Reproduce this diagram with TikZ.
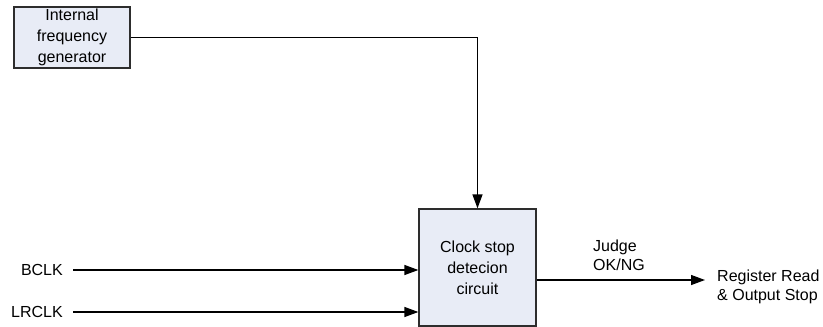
\documentclass[tikz,border=0pt]{standalone}
\usepackage{fontspec}
\setmainfont{Liberation Sans}
\usepackage{xcolor}
\usetikzlibrary{positioning,arrows.meta,calc}
\definecolor{boxfill}{RGB}{232,236,246}
\definecolor{boxline}{RGB}{45,45,45}
\tikzset{
  block/.style={draw=boxline, line width=1.3pt, fill=boxfill, align=center,
                inner sep=0pt, font=\fontsize{16}{21}\selectfont},
  sig/.style={inner sep=0pt, font=\fontsize{16}{19}\selectfont},
  arrow/.style={-{Triangle[length=14pt,width=10pt]}, line width=1.3pt},
}

\begin{document}
\begin{tikzpicture}[x=1pt,y=-1pt]
  \useasboundingbox (0,0) rectangle (823,327);
  \node[block, minimum width=116pt, minimum height=61pt] (gen) at (72,37.5) {Internal\\frequency\\generator};
  \node[block, minimum width=117pt, minimum height=117pt] (clk) at (477.5,267.5) {Clock stop\\detecion\\circuit};
  \node[sig, anchor=east] (bclk)  at (63,270) {BCLK};
  \node[sig, anchor=east] (lrclk) at (63,312) {LRCLK};
  \coordinate (judge) at (705,280);
  \node[sig, align=left, anchor=north west] (ok) at (593,240) {Judge\\OK/NG};
  \node[sig, align=left, anchor=west] (reg) at (717,287) {Register Read\\\& Output Stop};
  % connectors
  \draw[arrow] (gen.east) -| (clk.north);
  \draw[arrow] ([xshift=10pt]bclk.east) -- (bclk -| clk.west);
  \draw[arrow] ([xshift=10pt]lrclk.east) -- (lrclk -| clk.west);
  \draw[arrow] (judge -| clk.east) -- (judge);
\end{tikzpicture}
\end{document}
